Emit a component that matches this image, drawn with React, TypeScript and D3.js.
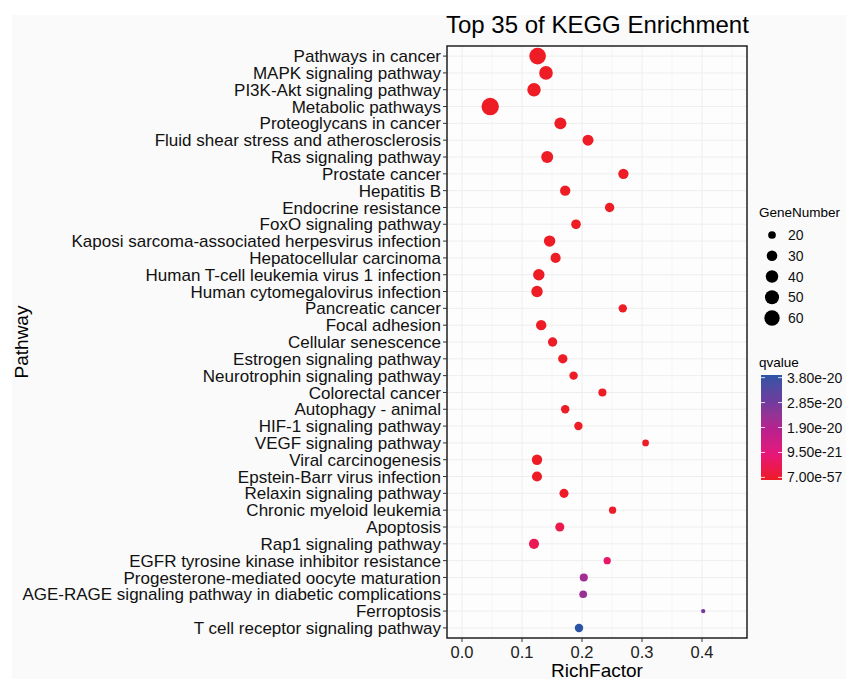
import * as d3 from "d3";

const pathways = [
  "Pathways in cancer",
  "MAPK signaling pathway",
  "PI3K-Akt signaling pathway",
  "Metabolic pathways",
  "Proteoglycans in cancer",
  "Fluid shear stress and atherosclerosis",
  "Ras signaling pathway",
  "Prostate cancer",
  "Hepatitis B",
  "Endocrine resistance",
  "FoxO signaling pathway",
  "Kaposi sarcoma-associated herpesvirus infection",
  "Hepatocellular carcinoma",
  "Human T-cell leukemia virus 1 infection",
  "Human cytomegalovirus infection",
  "Pancreatic cancer",
  "Focal adhesion",
  "Cellular senescence",
  "Estrogen signaling pathway",
  "Neurotrophin signaling pathway",
  "Colorectal cancer",
  "Autophagy - animal",
  "HIF-1 signaling pathway",
  "VEGF signaling pathway",
  "Viral carcinogenesis",
  "Epstein-Barr virus infection",
  "Relaxin signaling pathway",
  "Chronic myeloid leukemia",
  "Apoptosis",
  "Rap1 signaling pathway",
  "EGFR tyrosine kinase inhibitor resistance",
  "Progesterone-mediated oocyte maturation",
  "AGE-RAGE signaling pathway in diabetic complications",
  "Ferroptosis",
  "T cell receptor signaling pathway",
];

const richFactor = [
  0.126, 0.14, 0.12, 0.047, 0.164, 0.21, 0.142, 0.269, 0.172, 0.246, 0.19,
  0.146, 0.156, 0.128, 0.125, 0.268, 0.132, 0.151, 0.168, 0.186, 0.234,
  0.172, 0.194, 0.306, 0.125, 0.125, 0.17, 0.251, 0.163, 0.12, 0.242,
  0.203, 0.202, 0.402, 0.195,
];

const geneNumber = [
  71, 47, 46, 78, 37, 32, 37, 29, 29, 25, 26, 34, 28, 34, 34, 22, 29, 25,
  25, 22, 21, 22, 22, 18, 29, 28, 24, 19, 24, 28, 19, 21, 20, 16, 22,
];

const qvalue = [
  7.0e-57, 2.1e-48, 5.3e-44, 1.2e-41, 3.4e-38, 8.9e-36, 2.6e-34, 7.4e-33,
  1.5e-32, 4.2e-31, 9.8e-30, 3.1e-29, 8.7e-29, 2.2e-28, 6.5e-28, 1.9e-27,
  5.6e-27, 1.4e-26, 4.1e-26, 9.7e-26, 2.8e-25, 7.3e-25, 1.8e-24, 4.6e-24,
  1.2e-23, 3.5e-23, 9.1e-23, 2.7e-22, 3.9e-21, 5.2e-21, 7.4e-21, 2.15e-20,
  2.25e-20, 2.75e-20, 3.8e-20,
];

const xTicks = [0, 0.1, 0.2, 0.3, 0.4];
const sizeBreaks = [20, 30, 40, 50, 60];
const qBreaks = [3.8e-20, 2.85e-20, 1.9e-20, 9.5e-21, 7.0e-57];
const qLabels = ["3.80e-20", "2.85e-20", "1.90e-20", "9.50e-21", "7.00e-57"];
const qColors = ["#EE1C25", "#E6177A", "#B4228F", "#6C3C9D", "#2B54A6"];

const W = 846;
const H = 679;
const panel = { left: 447, right: 747, top: 46, bottom: 638 };
const font = "'Liberation Sans', Arial, Helvetica, sans-serif";

export default function App() {
  const x = d3.scaleLinear().domain([-0.025, 0.475]).range([panel.left, panel.right]);
  const y = d3
    .scalePoint<string>()
    .domain(pathways)
    .range([panel.top, panel.bottom])
    .padding(0.6);

  // size like ggplot's area palette: sqrt of rescaled value
  const [gMin, gMax] = d3.extent(geneNumber) as [number, number];
  const rT = d3.scaleLinear().domain([0, 1]).range([2.2, 8.7]);
  const r = (g: number) => rT(Math.sqrt(Math.max(0, (g - gMin) / (gMax - gMin))));

  const [qMin, qMax] = d3.extent(qvalue) as [number, number];
  const color = d3
    .scaleLinear<string>()
    .domain(qColors.map((_, i) => qMin + ((qMax - qMin) * i) / (qColors.length - 1)))
    .range(qColors)
    .interpolate(d3.interpolateLab);

  const minorTicks = x.ticks(10).filter((t) => !xTicks.some((m) => Math.abs(m - t) < 1e-9));

  // colourbar
  const bar = { x: 761, y: 375, w: 21, h: 105 };
  const barY = d3
    .scaleLinear()
    .domain([qMin, qMax])
    .range([bar.y + bar.h - bar.h / 40, bar.y + bar.h / 40]);
  const gradStops = d3.range(0, 1.0001, 0.05);

  const sizeY = d3.scalePoint<number>().domain(sizeBreaks).range([235, 318]);

  return (
    <svg
      width={W}
      height={H}
      style={{ position: "absolute", left: 0, top: 0 }}
      fontFamily={font}
    >
      <defs>
        <linearGradient id="qgrad" x1="0" y1="1" x2="0" y2="0">
          {gradStops.map((t) => (
            <stop key={t} offset={t} stopColor={color(qMin + (qMax - qMin) * t)} />
          ))}
        </linearGradient>
      </defs>
      <rect width={W} height={H} fill="#ffffff" />
      <rect x={12} y={15} width={W - 12} height={H - 15} fill="#FAFAFA" />

      <text x={panel.left - 1} y={33} fontSize={24} fill="#000">
        Top 35 of KEGG Enrichment
      </text>

      {/* panel */}
      <rect
        x={panel.left}
        y={panel.top}
        width={panel.right - panel.left}
        height={panel.bottom - panel.top}
        fill="#FDFDFD"
      />
      {minorTicks.map((t) => (
        <line key={`mx${t}`} x1={x(t)} x2={x(t)} y1={panel.top} y2={panel.bottom} stroke="#F5F5F5" />
      ))}
      {xTicks.map((t) => (
        <line key={`gx${t}`} x1={x(t)} x2={x(t)} y1={panel.top} y2={panel.bottom} stroke="#EEEEEE" />
      ))}
      {pathways.map((p) => (
        <line key={`gy${p}`} x1={panel.left} x2={panel.right} y1={y(p)} y2={y(p)} stroke="#EEEEEE" />
      ))}

      {pathways.map((p, i) => (
        <circle key={`pt${p}`} cx={x(richFactor[i])} cy={y(p)} r={r(geneNumber[i])} fill={color(qvalue[i])} />
      ))}

      <rect
        x={panel.left}
        y={panel.top}
        width={panel.right - panel.left}
        height={panel.bottom - panel.top}
        fill="none"
        stroke="#111"
        strokeWidth={1.4}
      />

      {/* y axis */}
      {pathways.map((p) => (
        <g key={`yt${p}`}>
          <line x1={panel.left - 4} x2={panel.left} y1={y(p)} y2={y(p)} stroke="#333" strokeWidth={1} />
          <text x={panel.left - 6} y={y(p)} dy="0.36em" textAnchor="end" fontSize={17} fill="#111">
            {p}
          </text>
        </g>
      ))}

      {/* x axis */}
      {xTicks.map((t) => (
        <g key={`xt${t}`}>
          <line x1={x(t)} x2={x(t)} y1={panel.bottom} y2={panel.bottom + 4} stroke="#333" />
          <text x={x(t)} y={658} textAnchor="middle" fontSize={16.5} fill="#222">
            {t.toFixed(1)}
          </text>
        </g>
      ))}
      <text x={(panel.left + panel.right) / 2} y={677} textAnchor="middle" fontSize={19} fill="#000">
        RichFactor
      </text>
      <text
        transform={`translate(27.5, ${(panel.top + panel.bottom) / 2}) rotate(-90)`}
        textAnchor="middle"
        fontSize={19}
        fill="#000"
      >
        Pathway
      </text>

      {/* size legend */}
      <text x={759} y={217} fontSize={13.5} fill="#000">
        GeneNumber
      </text>
      {sizeBreaks.map((s) => (
        <g key={`sz${s}`}>
          <circle cx={772} cy={sizeY(s)} r={r(s)} fill="#000" />
          <text x={788} y={sizeY(s)} dy="0.36em" fontSize={14} fill="#111">
            {s}
          </text>
        </g>
      ))}

      {/* colour legend */}
      <text x={759} y={367} fontSize={13.5} fill="#000">
        qvalue
      </text>
      <rect x={bar.x} y={bar.y} width={bar.w} height={bar.h} fill="url(#qgrad)" />
      {qBreaks.map((q, i) => (
        <g key={`qb${i}`}>
          <line x1={bar.x} x2={bar.x + 4} y1={barY(q)} y2={barY(q)} stroke="#fff" strokeWidth={0.8} />
          <line x1={bar.x + bar.w - 4} x2={bar.x + bar.w} y1={barY(q)} y2={barY(q)} stroke="#fff" strokeWidth={0.8} />
          <text x={787} y={barY(q)} dy="0.36em" fontSize={14} fill="#111">
            {qLabels[i]}
          </text>
        </g>
      ))}
    </svg>
  );
}
